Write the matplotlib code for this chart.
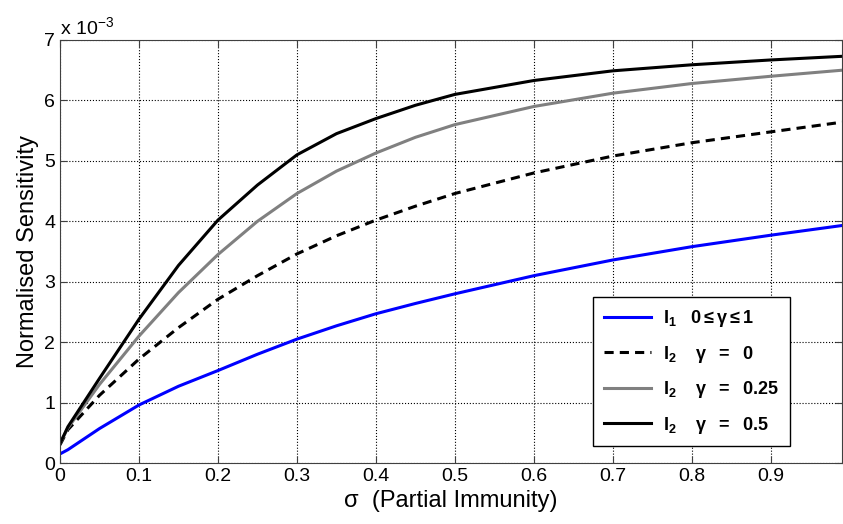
import matplotlib.pyplot as plt
import numpy as np

plt.rcParams['font.family'] = ['Liberation Sans', 'DejaVu Sans']
plt.rcParams['mathtext.fontset'] = 'custom'
plt.rcParams['mathtext.rm'] = 'Liberation Sans'
plt.rcParams['mathtext.bf'] = 'Liberation Sans:bold'
plt.rcParams['mathtext.it'] = 'Liberation Sans:italic'

# sigma values and sensitivities (units of 1e-3)
sigma = [0, 0.01, 0.05, 0.1, 0.15, 0.2, 0.25, 0.3, 0.35, 0.4, 0.45, 0.5, 0.6, 0.7, 0.8, 0.9, 0.99]
i1 = [0.15, 0.22, 0.57, 0.96, 1.27, 1.53, 1.8, 2.05, 2.27, 2.47, 2.64, 2.8, 3.1, 3.36, 3.58, 3.77, 3.93]
i2_g0 = [0.3, 0.55, 1.12, 1.72, 2.24, 2.71, 3.1, 3.46, 3.76, 4.02, 4.25, 4.46, 4.8, 5.08, 5.3, 5.48, 5.64]
i2_g025 = [0.32, 0.58, 1.3, 2.1, 2.82, 3.45, 4.0, 4.46, 4.83, 5.13, 5.39, 5.6, 5.9, 6.12, 6.28, 6.4, 6.5]
i2_g05 = [0.32, 0.6, 1.4, 2.38, 3.27, 4.02, 4.6, 5.1, 5.45, 5.7, 5.92, 6.1, 6.33, 6.49, 6.59, 6.67, 6.73]

fig = plt.figure(figsize=(8.43, 5.24), dpi=100)
ax = fig.add_axes([60/843, 61/524, 782/843, 423/524])

ax.plot(sigma, i1, color='#0000ff', lw=2.2, label=r'$\mathbf{I_1}$   $\mathbf{0 \leq \gamma \leq 1}$')
ax.plot(sigma, i2_g0, color='black', lw=2.2, ls=(0, (3, 2)), label=r'$\mathbf{I_2}$    $\mathbf{\gamma\ \ =\ \ 0}$')
ax.plot(sigma, i2_g025, color='#808080', lw=2.2, label=r'$\mathbf{I_2}$    $\mathbf{\gamma\ \ =\ \ 0.25}$')
ax.plot(sigma, i2_g05, color='black', lw=2.2, label=r'$\mathbf{I_2}$    $\mathbf{\gamma\ \ =\ \ 0.5}$')

ax.set_xlim(0, 0.99)
ax.set_ylim(0, 7)
ax.set_xticks(np.arange(0, 1.0, 0.1))
ax.set_xticklabels(['0', '0.1', '0.2', '0.3', '0.4', '0.5', '0.6', '0.7', '0.8', '0.9'])
ax.set_yticks(range(0, 8))
ax.tick_params(direction='in', labelsize=14, top=True, right=True, length=5, color='#404040')
ax.grid(True, ls=':', color='black', lw=0.8)
for s in ax.spines.values():
    s.set_color('#404040')

ax.set_xlabel('\u03c3  (Partial Immunity)', fontsize=17)
ax.set_ylabel('Normalised Sensitivity', fontsize=17)
ax.text(0.0, 1.005, r'x 10$^{\mathregular{-3}}$', transform=ax.transAxes, fontsize=14, va='bottom', ha='left')

ax.legend(loc='lower right', bbox_to_anchor=(0.945, 0.018), fontsize=13, fancybox=False, edgecolor='black',
          framealpha=1, handlelength=2.6, handletextpad=0.7, labelspacing=0.8, borderpad=0.6)

fig.savefig('out.png', dpi=100)
